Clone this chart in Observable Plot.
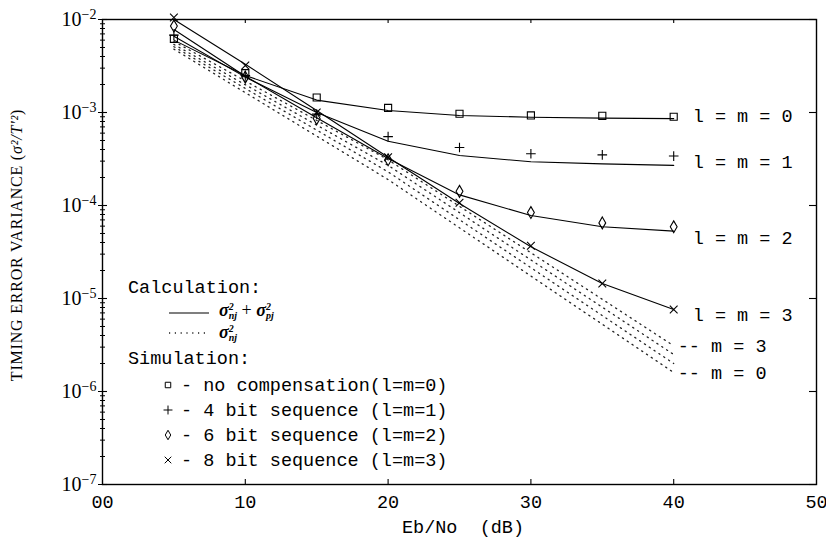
<!DOCTYPE html>
<html><head><meta charset="utf-8">
<script src="https://cdn.jsdelivr.net/npm/d3@7"></script>
<script src="https://cdn.jsdelivr.net/npm/@observablehq/plot@0.6"></script>
<style>body{margin:0;background:#fff} text{white-space:pre}</style>
</head><body><div id="chart"></div>
<script>
// ---- data ----
const snr = [5, 10, 15, 20, 25, 30, 35, 40];
// calculation sigma_nj^2 + sigma_pj^2 (solid)
const calc0 = [6.0e-3, 2.5e-3, 1.36e-3, 1.05e-3, 9.3e-4, 8.9e-4, 8.7e-4, 8.6e-4];
const calc1 = [6.6e-3, 2.4e-3, 1.0e-3, 4.9e-4, 3.45e-4, 2.95e-4, 2.8e-4, 2.7e-4];
const calc2 = [7.8e-3, 2.45e-3, 8.8e-4, 3.2e-4, 1.3e-4, 7.8e-5, 5.9e-5, 5.3e-5];
const calc3 = [1.0e-2, 3.3e-3, 1.05e-3, 3.3e-4, 1.05e-4, 3.6e-5, 1.45e-5, 7.6e-6];
// simulation points
const sim0 = [6.2e-3, 2.65e-3, 1.45e-3, 1.12e-3, 9.7e-4, 9.3e-4, 9.2e-4, 9.0e-4];
const sim1 = [6.8e-3, 2.5e-3, 9.6e-4, 5.5e-4, 4.2e-4, 3.6e-4, 3.5e-4, 3.4e-4];
const sim2 = [8.5e-3, 2.4e-3, 8.6e-4, 3.1e-4, 1.42e-4, 8.4e-5, 6.5e-5, 5.9e-5];
const sim3 = [1.05e-2, 3.2e-3, 1.0e-3, 3.3e-4, 1.07e-4, 3.7e-5, 1.45e-5, 7.6e-6];
// calculation sigma_nj^2 only (dotted), m = 0..3
const noiseSnr = [5, 20, 40];
const noise0 = [4.8e-3, 1.9e-4, 1.6e-6];
const noise1 = [5.1e-3, 2.3e-4, 2.0e-6];
const noise2 = [5.4e-3, 2.7e-4, 2.5e-6];
const noise3 = [5.8e-3, 3.1e-4, 3.1e-6];
// curve labels
const curveLabels = ["l = m = 0", "l = m = 1", "l = m = 2", "l = m = 3"];
const curveLabelY = [9.1e-4, 2.9e-4, 4.5e-5, 6.6e-6];
const noiseLabels = ["-- m = 3", "-- m = 0"];
const noiseLabelY = [3.05e-6, 1.56e-6];
// ticks
const xTicks = [0, 10, 20, 30, 40, 50];
const xTickLabels = ["00", "10", "20", "30", "40", "50"];
const yMajor = [1e-7, 1e-6, 1e-5, 1e-4, 1e-3, 1e-2];
const yMinor = [-7, -6, -5, -4, -3].flatMap(k => [2,3,4,5,6,7,8,9].map(m => m * Math.pow(10, k)));
// text
const xTitle = "Eb/No  (dB)";
const yTitle = "TIMING ERROR VARIANCE (";
const legendHeads = ["Calculation:", "Simulation:"];
const legendSim = ["- no compensation(l=m=0)", "- 4 bit sequence (l=m=1)", "- 6 bit sequence (l=m=2)", "- 8 bit sequence (l=m=3)"];

// ---- build rows ----
const rows = (xs, ys, key) => xs.map((x, i) => ({x, y: ys[i], key}));
const calcRows = [calc0, calc1, calc2, calc3].flatMap((s, k) => rows(snr, s, k));
const noiseRows = [noise0, noise1, noise2, noise3].flatMap((s, k) => rows(noiseSnr, s, k));
const symbols = ["square", "plus", "diamond", "times"];
const symR = [4, 3.2, 3.6, 3.6];
const sims = [sim0, sim1, sim2, sim3];

const W = 826, H = 546, ML = 102, MR = 10, MT = 19, MB = 62;
const IW = W - ML - MR, IH = H - MT - MB;
const mono = "'Liberation Mono', 'DejaVu Sans Mono', monospace";
const serif = "'Liberation Serif', 'DejaVu Serif', serif";

const chart = Plot.plot({
  width: W, height: H,
  marginLeft: ML, marginRight: MR, marginTop: MT, marginBottom: MB,
  style: {background: "#fff", color: "#000", fontFamily: mono, fontSize: "18.5px", overflow: "visible"},
  x: {domain: [0, 50], axis: null},
  y: {type: "log", domain: [1e-7, 1e-2], axis: null},
  marks: [
    Plot.line(noiseRows, {x: "x", y: "y", z: "key", stroke: "#222", strokeWidth: 1.3, strokeDasharray: "1.2 4.6"}),
    Plot.line(calcRows, {x: "x", y: "y", z: "key", stroke: "#000", strokeWidth: 1.1}),
    ...sims.map((s, k) => Plot.dot(rows(snr, s, k), {x: "x", y: "y", symbol: symbols[k], r: symR[k], fill: "none", stroke: "#000", strokeWidth: 1.1})),
    Plot.text(curveLabels, {x: () => 40, y: (d, i) => curveLabelY[i], text: d => d, textAnchor: "start", dx: 19, fontFamily: mono, fontSize: 18.5}),
    Plot.text(noiseLabels, {x: () => 40, y: (d, i) => noiseLabelY[i], text: d => d, textAnchor: "start", dx: 4, fontFamily: mono, fontSize: 18.5}),
    // axes
    Plot.axisX({ticks: xTicks, tickSize: 0, tickPadding: 10, tickFormat: d => xTickLabels[xTicks.indexOf(d)], label: null, fontFamily: mono, fontSize: 18.5}),
    Plot.ruleX(xTicks.slice(1, -1), {x: d => d, insetTop: IH - 5, stroke: "#000", strokeWidth: 1.1}),
    Plot.ruleX(xTicks.slice(1, -1), {x: d => d, insetBottom: IH - 4, stroke: "#000", strokeWidth: 1.1}),
    Plot.axisY({ticks: yMajor, tickSize: 4, tickPadding: 2, tickFormat: d => "10|" + Math.round(Math.log10(d)), label: null, fontFamily: serif, fontSize: 20}),
    Plot.axisY({ticks: yMinor, tickSize: 2, tickFormat: () => "", label: null}),
    Plot.ruleY(yMajor, {y: d => d, insetRight: IW - 5, stroke: "#000", strokeWidth: 1.1}),
    Plot.ruleY(yMinor, {y: d => d, insetRight: IW - 3, stroke: "#000", strokeWidth: 1}),
    Plot.ruleY(yMajor, {y: d => d, insetLeft: IW - 7, stroke: "#000", strokeWidth: 1.1}),
    Plot.frame({stroke: "#000", strokeWidth: 1.4})
  ]
});

const svg = d3.select(chart);
// superscript exponents on y tick labels
svg.selectAll('g[aria-label="y-axis tick label"] text').each(function () {
  const parts = this.textContent.split("|");
  if (parts.length < 2) return;
  const s = d3.select(this);
  s.text(parts[0]);
  s.append("tspan").attr("dy", "-0.5em").attr("font-size", 14).text(parts[1].replace("-", "\u2212"));
});

// x title
svg.append("text").attr("x", ML + IW / 2 + 4).attr("y", 533).attr("text-anchor", "middle")
  .attr("font-family", mono).attr("font-size", 18.5).attr("fill", "#000").text(xTitle);

// y title
const yt = svg.append("text").attr("transform", "translate(22,245) rotate(-90)").attr("text-anchor", "middle")
  .attr("font-family", serif).attr("font-size", 16).attr("letter-spacing", 0.8).attr("fill", "#000");
yt.append("tspan").text(yTitle);
yt.append("tspan").attr("font-style", "italic").text("\u03C3\u00B2/T'\u00B2");
yt.append("tspan").text(")");

// legend
const lg = svg.append("g").attr("fill", "#000").attr("text-anchor", "start");
lg.append("text").attr("x", 128).attr("y", 293).attr("font-family", mono).attr("font-size", 18.5).text(legendHeads[0]);
lg.append("line").attr("x1", 169).attr("x2", 209).attr("y1", 313).attr("y2", 313).attr("stroke", "#000").attr("stroke-width", 1.1);
lg.append("line").attr("x1", 169).attr("x2", 209).attr("y1", 333).attr("y2", 333).attr("stroke", "#222").attr("stroke-width", 1.3).attr("stroke-dasharray", "1.2 4.6");
function sigma(t, sub) {
  t.append("tspan").text("\u03C3");
  t.append("tspan").attr("font-size", 10).attr("dy", -6).text("2");
  t.append("tspan").attr("font-size", 10).attr("dx", -5).attr("dy", 9).text(sub);
}
const m1 = lg.append("text").attr("x", 219).attr("y", 316).attr("font-family", serif).attr("font-style", "italic").attr("font-weight", "bold").attr("font-size", 18);
sigma(m1, "nj");
m1.append("tspan").attr("dy", -3).attr("font-style", "normal").attr("font-weight", "normal").text(" + ");
sigma(m1, "pj");
const m2 = lg.append("text").attr("x", 219).attr("y", 338).attr("font-family", serif).attr("font-style", "italic").attr("font-weight", "bold").attr("font-size", 18);
sigma(m2, "nj");
lg.append("text").attr("x", 128).attr("y", 364).attr("font-family", mono).attr("font-size", 18.5).text(legendHeads[1]);
const symFns = [d3.symbolSquare, d3.symbolPlus, d3.symbolDiamond, d3.symbolTimes];
const symSize = [30, 28, 26, 30];
legendSim.forEach((t, i) => {
  const cy = 385 + i * 25;
  lg.append("path").attr("transform", `translate(168,${cy})`).attr("d", d3.symbol(symFns[i], symSize[i])())
    .attr("fill", "none").attr("stroke", "#000").attr("stroke-width", 1);
  lg.append("text").attr("x", 181).attr("y", cy + 6).attr("font-family", mono).attr("font-size", 18.5).text(t);
});

document.getElementById("chart").appendChild(chart);
</script>
</body></html>
